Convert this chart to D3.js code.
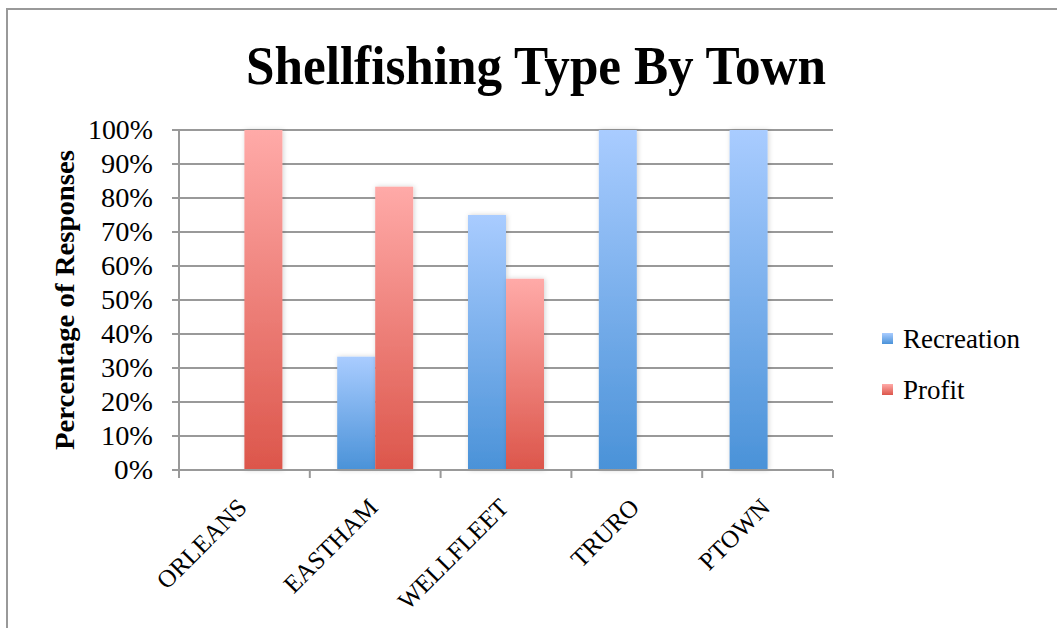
<!DOCTYPE html>
<html>
<head>
<meta charset="utf-8">
<script src="https://cdn.jsdelivr.net/npm/d3@7"></script>
<style>
  html, body { margin: 0; padding: 0; background: #fff; }
  svg { display: block; }
  text { font-family: "Liberation Serif", "DejaVu Serif", serif; fill: #000; }
</style>
</head>
<body>
<svg id="chart" width="1057" height="628"></svg>
<script>
// Survey results: share of responses per town
const towns = ["ORLEANS", "EASTHAM", "WELLFLEET", "TRURO", "PTOWN"];
const seriesNames = ["Recreation", "Profit"];
const recreation = [0, 0.3333, 0.75, 1.0, 1.0];
const profit = [1.0, 0.8333, 0.5625, 0, 0];
const yTicks = [0, 0.1, 0.2, 0.3, 0.4, 0.5, 0.6, 0.7, 0.8, 0.9, 1.0];

const svg = d3.select("#chart");
const W = 1057, H = 628;
const plot = { left: 179, right: 833, top: 130, bottom: 470 };

// Outer frame
svg.append("path")
  .attr("d", `M7,${H + 2} L7,9 L${W + 2},9`)
  .attr("fill", "none").attr("stroke", "#999").attr("stroke-width", 2);

const defs = svg.append("defs");
const gradBlue = defs.append("linearGradient").attr("id", "gBlue")
  .attr("x1", 0).attr("y1", 0).attr("x2", 0).attr("y2", 1);
gradBlue.append("stop").attr("offset", "0%").attr("stop-color", "#a9ccff");
gradBlue.append("stop").attr("offset", "100%").attr("stop-color", "#4a92d8");
const gradRed = defs.append("linearGradient").attr("id", "gRed")
  .attr("x1", 0).attr("y1", 0).attr("x2", 0).attr("y2", 1);
gradRed.append("stop").attr("offset", "0%").attr("stop-color", "#ffaaa8");
gradRed.append("stop").attr("offset", "100%").attr("stop-color", "#dc564b");
const shadow = defs.append("filter").attr("id", "shadow")
  .attr("x", "-30%").attr("y", "-10%").attr("width", "160%").attr("height", "120%");
shadow.append("feDropShadow").attr("dx", 1).attr("dy", 0).attr("stdDeviation", 2.5)
  .attr("flood-color", "#000").attr("flood-opacity", 0.18);

const x = d3.scaleBand().domain(towns).range([plot.left, plot.right]).paddingInner(0).paddingOuter(0);
const y = d3.scaleLinear().domain([0, 1]).range([plot.bottom, plot.top]);

// Gridlines
svg.append("g").selectAll("line").data(yTicks).join("line")
  .attr("x1", plot.left - 7).attr("x2", plot.right)
  .attr("y1", d => y(d)).attr("y2", d => y(d))
  .attr("stroke", "#999").attr("stroke-width", 2);

// Y axis line
svg.append("line").attr("x1", plot.left).attr("x2", plot.left)
  .attr("y1", plot.top).attr("y2", plot.bottom)
  .attr("stroke", "#999").attr("stroke-width", 2);

// Y tick labels
const fmt = d3.format(".0%");
svg.append("g").selectAll("text").data(yTicks).join("text")
  .attr("x", 153).attr("y", d => y(d)).attr("dy", "0.35em")
  .attr("text-anchor", "end").attr("font-size", 27)
  .attr("textLength", d => d === 1 ? 65 : (d === 0 ? 39 : 52))
  .attr("lengthAdjust", "spacingAndGlyphs")
  .text(d => fmt(d));

// X tick marks
const xTickPos = towns.map(t => x(t)).concat([plot.right]);
svg.append("g").selectAll("line").data(xTickPos).join("line")
  .attr("x1", d => d).attr("x2", d => d)
  .attr("y1", plot.bottom).attr("y2", plot.bottom + 8)
  .attr("stroke", "#999").attr("stroke-width", 2);

// Bars: grouped pair of 38px columns centered on each band
const barW = 38;
const rows = towns.map((t, i) => ({ town: t, values: [recreation[i], profit[i]] }));
const groups = svg.append("g").selectAll("g").data(rows).join("g")
  .attr("transform", d => `translate(${x(d.town) + x.bandwidth() / 2 - barW},0)`);
groups.selectAll("rect").data(d => d.values.map((v, j) => ({ v, j }))).join("rect")
  .filter(d => d.v > 0)
  .attr("x", d => d.j * barW)
  .attr("width", barW)
  .attr("y", d => y(d.v))
  .attr("height", d => y(0) - y(d.v))
  .attr("fill", d => d.j === 0 ? "url(#gBlue)" : "url(#gRed)")
  .attr("filter", "url(#shadow)");

// Redraw the baseline over bars
svg.append("line").attr("x1", plot.left - 7).attr("x2", plot.right)
  .attr("y1", plot.bottom).attr("y2", plot.bottom)
  .attr("stroke", "#999").attr("stroke-width", 2);

// X labels, rotated
svg.append("g").selectAll("text").data(towns).join("text")
  .attr("transform", d => `translate(${x(d) + x.bandwidth() / 2 + 4},${plot.bottom + 39}) rotate(-45)`)
  .attr("text-anchor", "end").attr("font-size", 25)
  .text(d => d);

// Title
svg.append("text").attr("x", 536).attr("y", 84)
  .attr("text-anchor", "middle").attr("font-size", 54).attr("font-weight", "bold")
  .attr("textLength", 580).attr("lengthAdjust", "spacingAndGlyphs")
  .text("Shellfishing Type By Town");

// Y axis title
svg.append("text")
  .attr("transform", `translate(74,${(plot.top + plot.bottom) / 2}) rotate(-90)`)
  .attr("text-anchor", "middle").attr("font-size", 27).attr("font-weight", "bold")
  .attr("textLength", 300).attr("lengthAdjust", "spacingAndGlyphs")
  .text("Percentage of Responses");

// Legend
const legend = svg.append("g").selectAll("g").data(seriesNames).join("g")
  .attr("transform", (d, i) => `translate(882,${333 + i * 51})`);
legend.append("rect").attr("width", 11).attr("height", 11)
  .attr("fill", (d, i) => i === 0 ? "url(#gBlue)" : "url(#gRed)");
legend.append("text").attr("x", 21).attr("y", 6).attr("dy", "0.35em")
  .attr("font-size", 27).text(d => d);
</script>
</body>
</html>
